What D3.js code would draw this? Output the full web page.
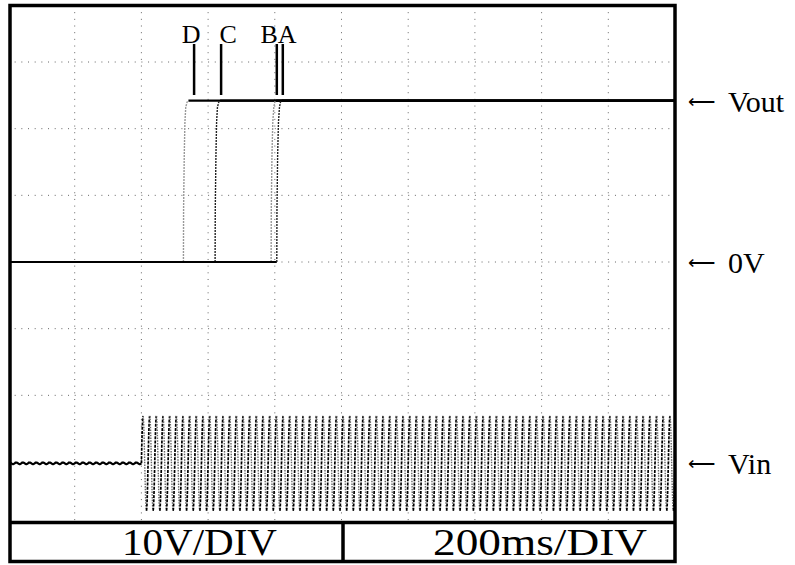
<!DOCTYPE html>
<html>
<head>
<meta charset="utf-8">
<script src="https://cdn.jsdelivr.net/npm/d3@7"></script>
<style>
  body { margin: 0; background: #fff; }
  text { font-family: "Liberation Serif", "Times New Roman", serif; fill: #000; }
</style>
</head>
<body>
<svg id="chart" width="795" height="565"></svg>
<script>
// time in ms (200ms/DIV), voltage in V (10V/DIV)
const timeGrid = [200, 400, 600, 800, 1000, 1200, 1400, 1600, 1800];
const voltGrid = [-30, -20, -10, 0, 10, 20, 30];

// Vout step responses, [ms, V] read along each rising edge
const traceNames = ["D", "C", "B", "A"];
const traceD = [[526, 0], [526.5, 8], [528.5, 16], [530.5, 21], [533, 23.2], [537, 24], [541, 24.2]];
const traceC = [[621, 0], [621.5, 8], [623.5, 16], [625.5, 21], [628, 23.2], [632, 24], [636, 24.2]];
const traceB = [[789, 0], [789.5, 8], [791.5, 16], [794, 21], [797, 23.2], [800, 24], [804, 24.2]];
const traceA = [[806, 0], [806.5, 8], [808.5, 16], [811, 21], [814, 23.2], [817, 24], [821, 24.2]];
const markerTimes = [558, 639, 806, 824];
const voutLow = 0;
const voutHigh = 24.2;

// Vin: 50 Hz mains, switched on at 400 ms (shown on its own offset)
const vinOffset = -30.2;
const vinFreqHz = 50;
const vinOnsetMs = 400;
const vinAmpOff = 0.12;
const vinAmpOn = 7.1;

const rightLabels = [{ text: "Vout", v: voutHigh }, { text: "0V", v: 0 }, { text: "Vin", v: vinOffset }];
const bottomLabels = ["10V/DIV", "200ms/DIV"];

const svg = d3.select("#chart");
const box = { left: 10, top: 5.5, right: 675, plotBottom: 522.5, bottom: 561.5, split: 343 };

const x = d3.scaleLinear().domain([0, 2000]).range([8, 675]);
const y = d3.scaleLinear().domain([-30, 30]).range([462, 62]);

svg.append("defs").append("clipPath").attr("id", "plot")
  .append("rect")
  .attr("x", box.left).attr("y", box.top)
  .attr("width", box.right - box.left).attr("height", box.plotBottom - box.top);

const plot = svg.append("g").attr("clip-path", "url(#plot)");

// graticule
plot.append("g").selectAll("line").data(timeGrid).join("line")
  .attr("x1", d => x(d)).attr("x2", d => x(d))
  .attr("y1", box.top).attr("y2", box.plotBottom)
  .attr("stroke", "#666").attr("stroke-width", 1)
  .attr("stroke-dasharray", "1,5.67");

plot.append("g").selectAll("line").data(voltGrid).join("line")
  .attr("x1", x(0)).attr("x2", box.right)
  .attr("y1", d => y(d)).attr("y2", d => y(d))
  .attr("stroke", "#666").attr("stroke-width", 1)
  .attr("stroke-dasharray", "1,5.67");

// Vin
const line = d3.line().x(d => x(d[0])).y(d => y(d[1]));
function vin(t) {
  const amp = t < vinOnsetMs ? vinAmpOff : vinAmpOn;
  return vinOffset + amp * Math.sin(2 * Math.PI * vinFreqHz * (t - vinOnsetMs) / 1000);
}
const step = 0.5;
const before = d3.range(0, vinOnsetMs + step, step).map(t => [t, vin(t)]);
plot.append("path").attr("d", line(before))
  .attr("fill", "none").attr("stroke", "#000").attr("stroke-width", 2.2);

const halfMs = 1000 / vinFreqHz / 2;
const halves = d3.range(vinOnsetMs - halfMs / 2, 2000, halfMs).map((t0, i) => ({
  pts: d3.range(t0, t0 + halfMs + step / 2, step).map(t => [t, vin(t)]),
  rising: i % 2 === 0
}));
plot.append("g").selectAll("path").data(halves).join("path")
  .attr("d", d => line(d.pts.filter(p => p[0] >= vinOnsetMs)))
  .attr("fill", "none")
  .attr("stroke", d => d.rising ? "#000" : "#666")
  .attr("stroke-width", d => d.rising ? 1.7 : 1.4)
  .attr("stroke-dasharray", d => d.rising ? "3,1.2" : "1.5,1.2");

// Vout traces
const traces = [traceD, traceC, traceB, traceA];
const edgeStyle = { D: "#999", C: "#222", B: "#999", A: "#222" };

traces.forEach(function (tr, i) {
  const name = traceNames[i];
  const g = plot.append("g");
  g.append("path").attr("d", line([[0, voutLow], tr[0]]))
    .attr("fill", "none").attr("stroke", "#000").attr("stroke-width", 2.2);
  g.append("path").attr("d", line([tr[tr.length - 1], [2000, voutHigh]]))
    .attr("fill", "none").attr("stroke", "#000").attr("stroke-width", 2.2);
  g.append("path").attr("d", line(tr))
    .attr("fill", "none").attr("stroke", edgeStyle[name]).attr("stroke-width", 1.4)
    .attr("stroke-dasharray", "2,1");
});

// markers D C B A
const labelPlace = { D: ["middle", -3], C: ["middle", 7], B: ["end", 1], A: ["start", -5] };
const markers = svg.append("g").selectAll("g")
  .data(traceNames.map((n, i) => ({ name: n, t: markerTimes[i] })))
  .join("g");
markers.append("line")
  .attr("x1", d => x(d.t)).attr("x2", d => x(d.t))
  .attr("y1", 44).attr("y2", 95)
  .attr("stroke", "#000").attr("stroke-width", 2.5);
markers.append("text")
  .attr("x", d => x(d.t) + labelPlace[d.name][1])
  .attr("y", 43)
  .attr("text-anchor", d => labelPlace[d.name][0])
  .attr("font-size", 26)
  .text(d => d.name);

// frame
svg.append("rect")
  .attr("x", box.left).attr("y", box.top)
  .attr("width", box.right - box.left).attr("height", box.bottom - box.top)
  .attr("fill", "none").attr("stroke", "#000").attr("stroke-width", 3.5);
svg.append("line")
  .attr("x1", box.left).attr("x2", box.right)
  .attr("y1", box.plotBottom).attr("y2", box.plotBottom)
  .attr("stroke", "#000").attr("stroke-width", 3.5);
svg.append("line")
  .attr("x1", box.split).attr("x2", box.split)
  .attr("y1", box.plotBottom).attr("y2", box.bottom)
  .attr("stroke", "#000").attr("stroke-width", 3.5);

svg.append("g").selectAll("text").data(bottomLabels).join("text")
  .attr("x", (d, i) => i === 0 ? 122 : 433)
  .attr("y", 555)
  .attr("font-size", 38)
  .attr("textLength", (d, i) => i === 0 ? 155 : 214)
  .attr("lengthAdjust", "spacingAndGlyphs")
  .text(d => d);

// channel labels on the right
const rl = svg.append("g").selectAll("g").data(rightLabels).join("g");
rl.append("text")
  .attr("x", 688)
  .attr("y", d => y(d.v) + 7)
  .attr("font-family", "DejaVu Sans")
  .attr("font-size", 17)
  .attr("textLength", 27)
  .attr("lengthAdjust", "spacingAndGlyphs")
  .text("\u27F5");
rl.append("text")
  .attr("x", 728)
  .attr("y", d => y(d.v) + 11)
  .attr("font-size", 30)
  .text(d => d.text);
</script>
</body>
</html>
